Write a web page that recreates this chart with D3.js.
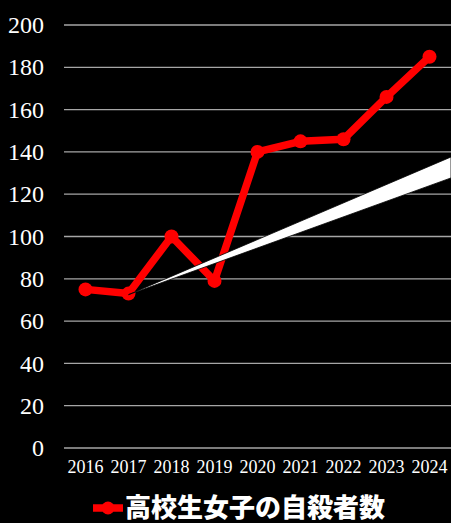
<!DOCTYPE html>
<html>
<head>
<meta charset="utf-8">
<script src="https://cdn.jsdelivr.net/npm/d3@7"></script>
<style>
  html, body { margin: 0; padding: 0; background: #000; }
  svg { display: block; }
</style>
</head>
<body>
<div id="chart"></div>
<script>
// chart data
let years = ['2016', '2017', '2018', '2019', '2020', '2021', '2022', '2023', '2024'];
let counts = [75, 73, 100, 79, 140, 145, 146, 166, 185];
let yTicks = [0, 20, 40, 60, 80, 100, 120, 140, 160, 180, 200];
let seriesName = '高校生女子の自殺者数';
// trend wedge: [index, top value, bottom value]
let wedgeStart = [1, 72.5];
let wedgeEnd = [8.5, 137.6, 127.7];

let svgWidth = 451;
let svgHeight = 523;
let margin = { top: 25, left: 64, right: 0, bottom: 75 };
let width = svgWidth - margin.left - margin.right;
let height = 448 - margin.top;

let svg = d3.select('#chart')
    .append('svg')
    .attr('width', svgWidth)
    .attr('height', svgHeight);
svg.append('rect')
    .attr('width', svgWidth)
    .attr('height', svgHeight)
    .attr('fill', '#000');

let g = svg.append('g')
    .attr('transform', `translate(${margin.left}, ${margin.top})`);

let x = d3.scaleBand().domain(years).range([0, 387]).padding(0);
let xi = d3.scaleLinear().domain([0, 1]).range([x.bandwidth() / 2, x.bandwidth() * 1.5]);
let y = d3.scaleLinear().domain([0, 200]).range([height, 0]);

// gridlines
g.selectAll('.grid')
    .data(yTicks)
    .enter()
    .append('line')
    .attr('x1', 0)
    .attr('x2', width)
    .attr('y1', d => y(d))
    .attr('y2', d => y(d))
    .attr('stroke', '#a6a6a6')
    .attr('stroke-width', 1.3);

// y labels
g.selectAll('.ylab')
    .data(yTicks)
    .enter()
    .append('text')
    .attr('x', -20)
    .attr('y', d => y(d))
    .attr('dy', '0.34em')
    .attr('text-anchor', 'end')
    .attr('fill', '#fff')
    .style('font-family', '"Liberation Serif", "DejaVu Serif", serif')
    .style('font-size', '24px')
    .text(d => d);

// x labels
g.selectAll('.xlab')
    .data(years)
    .enter()
    .append('text')
    .attr('x', d => x(d) + x.bandwidth() / 2)
    .attr('y', height + 25)
    .attr('text-anchor', 'middle')
    .attr('fill', '#fff')
    .style('font-family', '"Liberation Serif", "DejaVu Serif", serif')
    .style('font-size', '18px')
    .text(d => d);

// line
let line = d3.line()
    .x((d, i) => x(years[i]) + x.bandwidth() / 2)
    .y(d => y(d));
g.append('path')
    .datum(counts)
    .attr('d', line)
    .attr('fill', 'none')
    .attr('stroke', '#ff0000')
    .attr('stroke-width', 7.5)
    .attr('stroke-linejoin', 'round');
g.selectAll('.dot')
    .data(counts)
    .enter()
    .append('circle')
    .attr('cx', (d, i) => x(years[i]) + x.bandwidth() / 2)
    .attr('cy', d => y(d))
    .attr('r', 7)
    .attr('fill', '#ff0000');

// trend wedge on top
let wedgePts = [
    [xi(wedgeStart[0]), y(wedgeStart[1])],
    [xi(wedgeEnd[0]), y(wedgeEnd[1])],
    [xi(wedgeEnd[0]), y(wedgeEnd[2])]
];
g.append('path')
    .attr('d', d3.line()(wedgePts) + 'Z')
    .attr('fill', '#fff')
    .attr('stroke', '#000')
    .attr('stroke-width', 0.8);

// legend
let legend = svg.append('g')
    .attr('transform', 'translate(93, 508)');
legend.append('line')
    .attr('x1', 0)
    .attr('x2', 30)
    .attr('stroke', '#ff0000')
    .attr('stroke-width', 7.5);
legend.append('circle')
    .attr('cx', 15)
    .attr('r', 6.5)
    .attr('fill', '#ff0000');
legend.append('text')
    .attr('x', 32)
    .attr('y', 0)
    .attr('dy', '0.36em')
    .attr('fill', '#fff')
    .style('font-family', '"Noto Sans CJK JP", sans-serif')
    .style('font-weight', 900)
    .style('font-size', '26px')
    .text(seriesName);
</script>
</body>
</html>
